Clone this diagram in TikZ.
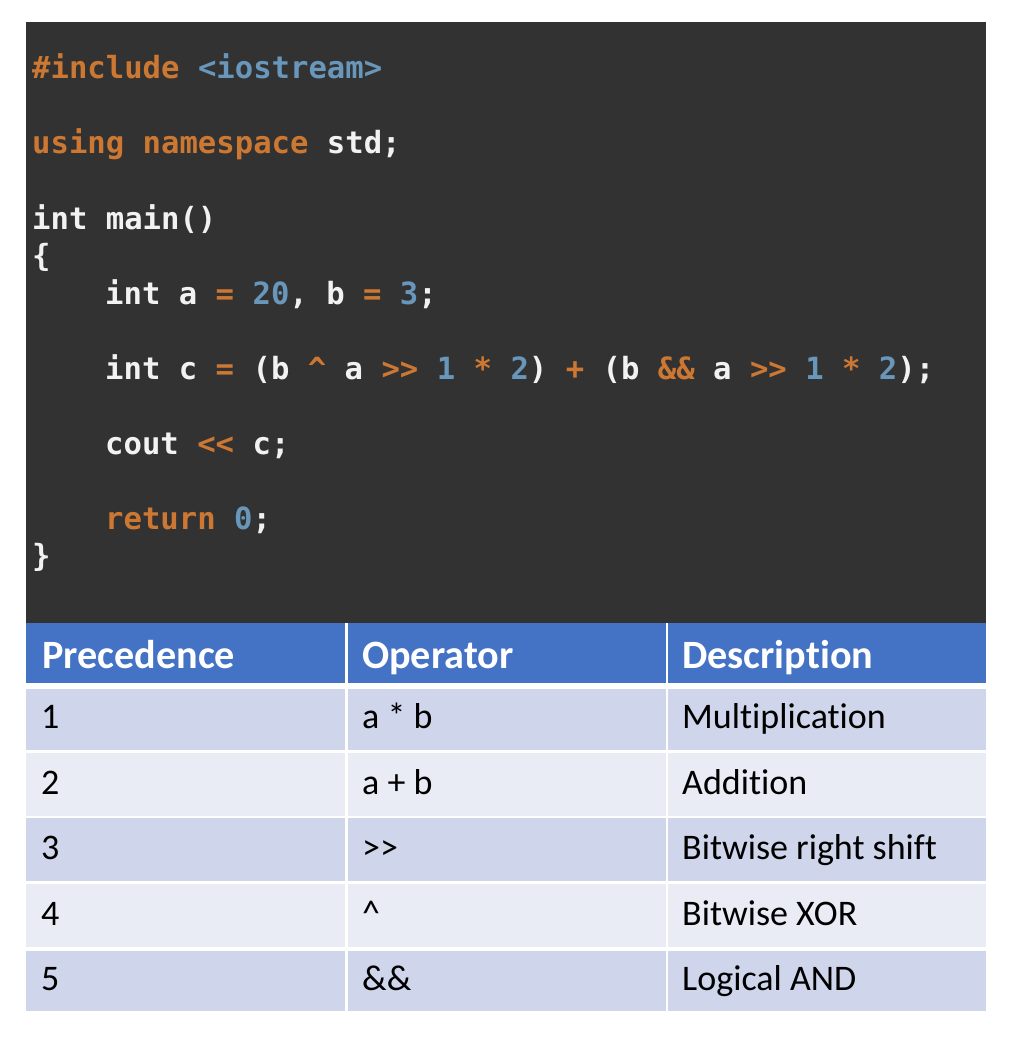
\documentclass[tikz,border=0pt]{standalone}
\usepackage{fontspec}
\newfontfamily\codefont{DejaVu Sans Mono}
\newfontfamily\tabfont{Carlito}[Ligatures={NoCommon}]
\definecolor{codebg}{HTML}{323232}
\definecolor{kw}{HTML}{CC7832}
\definecolor{num}{HTML}{6897BB}
\definecolor{idf}{HTML}{F2F2F2}
\definecolor{hdr}{HTML}{4472C4}
\definecolor{rowa}{HTML}{CFD5EA}
\definecolor{rowb}{HTML}{E9EBF5}
\newcommand\kwc[1]{\textcolor{kw}{#1}}
\newcommand\numc[1]{\textcolor{num}{#1}}
\begin{document}
\begin{tikzpicture}[x=1pt,y=-1pt,
  code/.style={anchor=base west,inner sep=0pt,font=\codefont\bfseries\fontsize{30.6}{36}\selectfont,text=idf},
  hd/.style={anchor=base west,inner sep=0pt,font=\tabfont\bfseries\fontsize{40.2}{44}\selectfont,text=white},
  bd/.style={anchor=base west,inner sep=0pt,font=\tabfont\fontsize{36}{40}\selectfont,text=black}]
\useasboundingbox[fill=white] (0,0) rectangle (1016,1043);
% code panel
\fill[codebg] (26,22) rectangle (986,623);
\node[code] (l1) at (32,79) {\kwc{\#include} \numc{<iostream>}};
\node[code] (l2) at (32,154) {\kwc{using namespace} std;};
\node[code] (l3) at (32,229) {int main()};
\node[code] (l4) at (32,266.5) {\{};
\node[code] (l5) at (105,304) {int a \kwc{=} \numc{20}, b \kwc{=} \numc{3};};
\node[code] (l6) at (105,379) {int c \kwc{=} (b \kwc{\textasciicircum} a \kwc{>>} \numc{1} \kwc{*} \numc{2}) \kwc{+} (b \kwc{\&\&} a \kwc{>>} \numc{1} \kwc{*} \numc{2});};
\node[code] (l7) at (105,454) {cout \kwc{<<} c;};
\node[code] (l8) at (105,529) {\kwc{return} \numc{0};};
\node[code] (l9) at (32,566.5) {\}};
% table header
\fill[hdr] (26,623) rectangle (345,683);
\fill[hdr] (347.5,623) rectangle (665.5,683);
\fill[hdr] (668,623) rectangle (986,683);
\node[hd] (h1) at (42,668.5) {Precedence};
\node[hd] (h2) at (362,668.5) {Operator};
\node[hd] (h3) at (682,668.5) {Description};
% rows
\foreach \t/\b/\c in {689/750/rowa, 752.5/815.5/rowb, 818/881/rowa, 884/947/rowb, 950.5/1010.5/rowa}{
  \fill[\c] (26,\t) rectangle (345,\b);
  \fill[\c] (347.5,\t) rectangle (665.5,\b);
  \fill[\c] (668,\t) rectangle (986,\b);
}
\node[bd] (r1a) at (41,728.5) {1};
\node[bd] (r1b) at (362,728.5) {a * b};
\node[bd] (r1c) at (682,728.5) {Multiplication};
\node[bd] (r2a) at (41,794) {2};
\node[bd] (r2b) at (362,794) {a + b};
\node[bd] (r2c) at (682,794) {Addition};
\node[bd] (r3a) at (41,859.5) {3};
\node[bd] (r3b) at (362,859.5) {>>};
\node[bd] (r3c) at (682,859.5) {Bitwise right shift};
\node[bd] (r4a) at (41,925) {4};
\node[bd] (r4b) at (362,925) {\textasciicircum};
\node[bd] (r4c) at (682,925) {Bitwise XOR};
\node[bd] (r5a) at (41,990.5) {5};
\node[bd] (r5b) at (362,990.5) {\&\&};
\node[bd] (r5c) at (682,990.5) {Logical AND};
\end{tikzpicture}
\end{document}
